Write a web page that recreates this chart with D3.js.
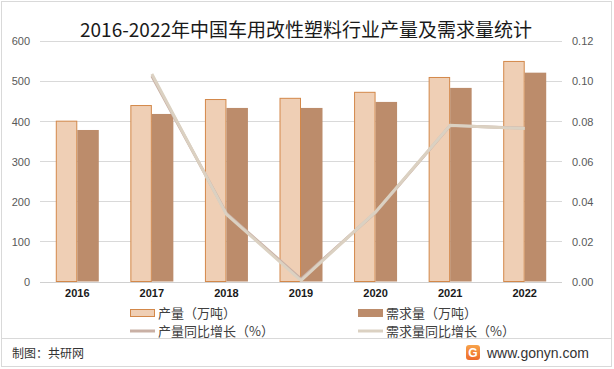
<!DOCTYPE html>
<html><head><meta charset="utf-8">
<script src="https://cdn.jsdelivr.net/npm/d3@7/dist/d3.min.js"></script>
<style>body{margin:0;background:#fff;}svg{display:block;font-family:"Noto Sans CJK SC","Noto Sans",sans-serif;}</style>
</head><body><svg id="c" width="614" height="369"></svg>
<script>
const years = ["2016","2017","2018","2019","2020","2021","2022"];
const production = [400, 439, 454, 457, 472, 509, 549];
const demand = [378, 418, 433, 433, 448, 483, 521];
const productionGrowth = [null, 0.1025, 0.034, 0.0012, 0.0345, 0.0778, 0.0765];
const demandGrowth = [null, 0.1035, 0.0335, 0.0005, 0.0347, 0.078, 0.0763];
const leftTicks = [0,100,200,300,400,500,600];
const rightTicks = [0,0.02,0.04,0.06,0.08,0.10,0.12];

const svg = d3.select("#c");
// outer border
svg.append("rect").attr("x",1.5).attr("y",1.5).attr("width",610).attr("height",365)
  .attr("fill","none").attr("stroke","#d9d9d9").attr("stroke-width",1);

const x0 = 40, x1 = 562, yTop = 41, yBot = 281.5;
const x = d3.scaleBand().domain(years).range([x0,x1]).paddingInner(0).paddingOuter(0);
const y = d3.scaleLinear().domain([0,600]).range([yBot,yTop]);
const y2 = d3.scaleLinear().domain([0,0.12]).range([yBot,yTop]);
const sub = d3.scaleBand().domain(["p","d"]).range([-21.5,21.5]);

// title
svg.append("text").attr("x",306).attr("y",37).attr("text-anchor","middle")
  .attr("font-size",19).attr("fill","#1a1a1a").text("2016-2022年中国车用改性塑料行业产量及需求量统计");

// grid
svg.append("g").selectAll("line").data(leftTicks).join("line")
  .attr("x1",x0).attr("x2",x1).attr("y1",d=>Math.round(y(d))+0.5).attr("y2",d=>Math.round(y(d))+0.5)
  .attr("stroke",d=>d===0?"#d0d0d0":"#d9d9d9").attr("stroke-width",1);

// left axis
const ax = svg.append("g").attr("transform",`translate(30,0)`)
  .call(d3.axisLeft(y).tickValues(leftTicks).tickSize(0).tickPadding(0));
ax.select(".domain").remove();
ax.selectAll("text").attr("font-size",11).attr("fill","#595959").attr("font-family","Liberation Sans, Arial, sans-serif").attr("dy","0.35em");

const ax2 = svg.append("g").attr("transform",`translate(572,0)`)
  .call(d3.axisRight(y2).tickValues(rightTicks).tickSize(0).tickPadding(0).tickFormat(d3.format(".2f")));
ax2.select(".domain").remove();
ax2.selectAll("text").attr("font-size",11).attr("fill","#595959").attr("font-family","Liberation Sans, Arial, sans-serif").attr("dy","0.35em");

// bars
const g = svg.append("g");
g.selectAll("rect.p").data(years).join("rect").attr("class","p")
  .attr("x",d=>x(d)+x.bandwidth()/2+sub("p")+0.5).attr("width",sub.bandwidth()-1)
  .attr("y",(d,i)=>y(production[i])).attr("height",(d,i)=>yBot-y(production[i]))
  .attr("fill","#EFCFB5").attr("stroke","#D3884A").attr("stroke-width",1);
g.selectAll("rect.d").data(years).join("rect").attr("class","d")
  .attr("x",d=>x(d)+x.bandwidth()/2+sub("d")).attr("width",sub.bandwidth())
  .attr("y",(d,i)=>y(demand[i])).attr("height",(d,i)=>yBot-y(demand[i]))
  .attr("fill","#BC8C6B");

// x labels
const xa = svg.append("g").attr("transform",`translate(0,${yBot+6})`)
  .call(d3.axisBottom(x).tickSize(0).tickPadding(0));
xa.select(".domain").remove();
xa.selectAll("text").attr("font-size",11).attr("font-weight","bold").attr("fill","#1a1a1a")
  .attr("font-family","Liberation Sans, Arial, sans-serif").attr("dy","0.9em");

// lines
const line = d3.line().defined(d=>d[1]!==null).x(d=>x(d[0])+x.bandwidth()/2).y(d=>y2(d[1]));
svg.append("path").datum(years.map((yr,i)=>[yr,productionGrowth[i]])).attr("d",line)
  .attr("fill","none").attr("stroke","#C9B0A5").attr("stroke-width",3);
svg.append("path").datum(years.map((yr,i)=>[yr,demandGrowth[i]])).attr("d",line)
  .attr("fill","none").attr("stroke","#DBD1C2").attr("stroke-width",3);

// legend
const lg = svg.append("g").attr("font-size",13).attr("fill","#404040");
lg.append("rect").attr("x",130.5).attr("y",309.5).attr("width",24).attr("height",7).attr("fill","#EFCFB5").attr("stroke","#D3884A");
lg.append("text").attr("x",158).attr("y",318).text("产量（万吨）");
lg.append("rect").attr("x",358).attr("y",309).attr("width",25).attr("height",8).attr("fill","#BC8C6B");
lg.append("text").attr("x",386).attr("y",318).text("需求量（万吨）");
lg.append("line").attr("x1",130).attr("x2",155).attr("y1",331).attr("y2",331).attr("stroke","#C9B0A5").attr("stroke-width",3);
lg.append("text").attr("x",158).attr("y",336).text("产量同比增长（%）");
lg.append("line").attr("x1",358).attr("x2",383).attr("y1",331).attr("y2",331).attr("stroke","#DBD1C2").attr("stroke-width",3);
lg.append("text").attr("x",386).attr("y",336).text("需求量同比增长（%）");

// footer
svg.append("line").attr("x1",2).attr("x2",612).attr("y1",338.5).attr("y2",338.5).attr("stroke","#d9d9d9");
svg.append("text").attr("x",12).attr("y",358).attr("font-size",12).attr("fill","#333").text("制图：共研网");
const defs = svg.append("defs");
const gr = defs.append("linearGradient").attr("id","lg1").attr("x1",0).attr("y1",0).attr("x2",0).attr("y2",1);
gr.append("stop").attr("offset",0).attr("stop-color","#F7A34A");
gr.append("stop").attr("offset",1).attr("stop-color","#EE6A2A");
svg.append("rect").attr("x",466).attr("y",345).attr("width",14).attr("height",15).attr("rx",3).attr("fill","url(#lg1)");
svg.append("text").attr("x",473).attr("y",357).attr("text-anchor","middle").attr("font-size",12).attr("font-weight","bold").attr("fill","#fff").attr("font-family","Liberation Sans, Arial, sans-serif").text("G");
svg.append("text").attr("x",487).attr("y",358).attr("font-size",14).attr("fill","#333").attr("font-family","Liberation Sans, Arial, sans-serif").text("www.gonyn.com");
</script></body></html>
